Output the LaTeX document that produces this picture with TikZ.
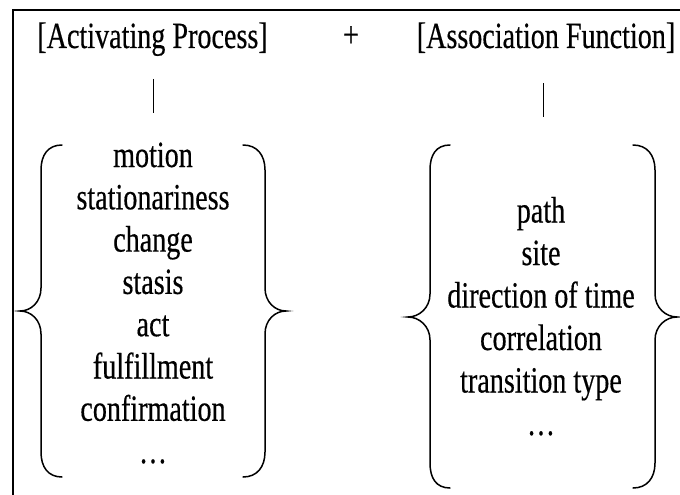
\documentclass[tikz,border=0pt]{standalone}
\usepackage{fontspec}
\setmainfont[FakeStretch=0.76,FakeBold=0.4]{Liberation Serif}
\begin{document}
\begin{tikzpicture}[x=1pt,y=-1pt,
  lbl/.style={anchor=base,inner sep=0pt,font=\fontsize{37}{42}\selectfont},
  brace/.style={line width=1.5pt,line cap=round},
  frame/.style={line width=1.8pt},
  link/.style={line width=1pt}]
\useasboundingbox (0,0) rectangle (680,495);
% frame
\draw[frame] (13,495) -- (13,10) -- (680,10);
% titles
\node[lbl] (tA) at (152.5,48) {[Activating Process]};
\node[lbl] (plus) at (351,47) {+};
\node[lbl] (tB) at (546,48) {[Association Function]};
% connectors
\coordinate (a1) at (153,79); \coordinate (a2) at (153,113);
\coordinate (b1) at (543,83); \coordinate (b2) at (543,117);
\draw[link] (a1) -- (a2);
\draw[link] (b1) -- (b2);
% left list
\foreach \t [count=\i from 0] in {motion,stationariness,change,stasis,act,fulfillment,confirmation,…}
  \node[lbl] (L\i) at (153,167+42.3*\i) {\t};
% right list
\foreach \t [count=\i from 0] in {path,site,direction of time,correlation,transition type,…}
  \node[lbl] (R\i) at (541,222.5+42.5*\i) {\t};
% left group braces
\draw[brace] (62,145) .. controls (48,145) and (41,155) .. (41,170) -- (41,288)
  .. controls (41,302) and (31,311) .. (20,311)
  .. controls (31,311) and (41,320) .. (41,334) -- (41,452)
  .. controls (41,467) and (48,477) .. (62,477);
\draw[brace] (243,145) .. controls (257,145) and (265,155) .. (265,170) -- (265,288)
  .. controls (265,302) and (275,311) .. (286,311)
  .. controls (275,311) and (265,320) .. (265,334) -- (265,452)
  .. controls (265,467) and (257,477) .. (243,477);
% right group braces
\draw[brace] (450,145) .. controls (436,145) and (430,155) .. (430,170) -- (430,294)
  .. controls (430,308) and (419,317) .. (408,317)
  .. controls (419,317) and (430,326) .. (430,340) -- (430,463)
  .. controls (430,478) and (436,488) .. (450,488);
\draw[brace] (633,145) .. controls (647,145) and (655,155) .. (655,170) -- (655,294)
  .. controls (655,308) and (666,317) .. (677,317)
  .. controls (666,317) and (655,326) .. (655,340) -- (655,463)
  .. controls (655,478) and (647,488) .. (633,488);
\end{tikzpicture}
\end{document}
